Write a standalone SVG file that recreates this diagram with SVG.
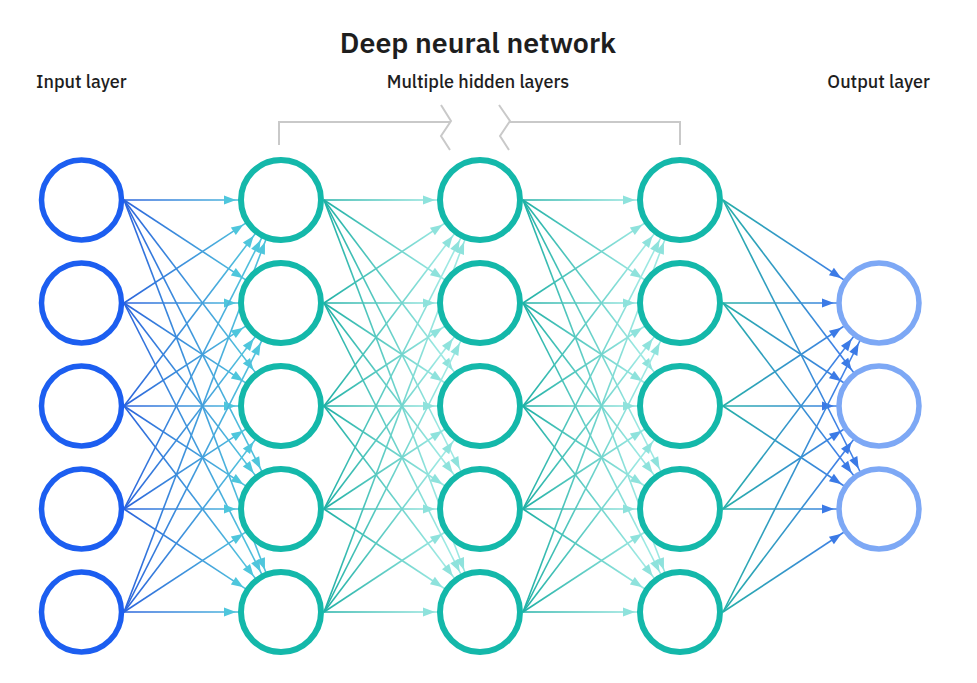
<svg xmlns="http://www.w3.org/2000/svg" width="977" height="683" viewBox="0 0 977 683">
<style>
text{font-family:"IBM Plex Sans","Noto Sans","Liberation Sans",sans-serif;fill:#1e1e1e}
.t{font-size:28.5px;font-weight:600}
.l{font-size:18px;font-weight:500}
.br{fill:none;stroke:#c9c9c9;stroke-width:2}
.c1 line{stroke:url(#g1);stroke-width:1.6;marker-end:url(#m1)}
.c2 line{stroke:url(#g2);stroke-width:1.6;marker-end:url(#m2)}
.c3 line{stroke:url(#g3);stroke-width:1.6;marker-end:url(#m2)}
.c4 line{stroke:url(#g4);stroke-width:1.6;marker-end:url(#m4)}
.in{fill:#fff;stroke:#1c5ef0;stroke-width:5.5}
.hd{fill:#fff;stroke:#14b8aa;stroke-width:6}
.out{fill:#fff;stroke:#7da8f5;stroke-width:5.5}
</style>
<defs>
<linearGradient id="g1" gradientUnits="userSpaceOnUse" x1="124" y1="0" x2="281" y2="0"><stop offset="0" stop-color="#2c64dc"/><stop offset="0.75" stop-color="#4fbedc"/></linearGradient>
<linearGradient id="g2" gradientUnits="userSpaceOnUse" x1="323" y1="0" x2="480" y2="0"><stop offset="0" stop-color="#1fb0a5"/><stop offset="0.75" stop-color="#9ce8e2"/></linearGradient>
<linearGradient id="g3" gradientUnits="userSpaceOnUse" x1="522" y1="0" x2="680" y2="0"><stop offset="0" stop-color="#1fb0a5"/><stop offset="0.75" stop-color="#9ce8e2"/></linearGradient>
<linearGradient id="g4" gradientUnits="userSpaceOnUse" x1="722" y1="0" x2="879" y2="0"><stop offset="0" stop-color="#26b0a8"/><stop offset="0.75" stop-color="#3f80e6"/></linearGradient>
<marker id="m1" markerUnits="userSpaceOnUse" markerWidth="70" markerHeight="20" viewBox="-70 -10 70 20" refX="0" refY="0" orient="auto" overflow="visible"><path d="M-45,0 L-57,-4.5 L-57,4.5 Z" fill="#4ec6dc"/></marker>
<marker id="m2" markerUnits="userSpaceOnUse" markerWidth="70" markerHeight="20" viewBox="-70 -10 70 20" refX="0" refY="0" orient="auto" overflow="visible"><path d="M-45,0 L-57,-4.5 L-57,4.5 Z" fill="#8ee2dc"/></marker>
<marker id="m4" markerUnits="userSpaceOnUse" markerWidth="70" markerHeight="20" viewBox="-70 -10 70 20" refX="0" refY="0" orient="auto" overflow="visible"><path d="M-45,0 L-57,-4.5 L-57,4.5 Z" fill="#3b7ae6"/></marker>
</defs>
<rect width="977" height="683" fill="#fff"/>
<text class="t" x="478" y="53" text-anchor="middle">Deep neural network</text>
<text class="l" x="36" y="88">Input layer</text>
<text class="l" x="478" y="88" text-anchor="middle">Multiple hidden layers</text>
<text class="l" x="930" y="88" text-anchor="end">Output layer</text>
<g id="bracket">
<path class="br" d="M279,145 V122 H451"/>
<path class="br" d="M441,105 L451,121 L441,136 L450,150"/>
<path class="br" d="M499,105 L510,121 L500,136 L509,150"/>
<path class="br" d="M510,122 H680 V145"/>
</g>
<g id="connectors">
<g class="c1">
<line x1="124" y1="200" x2="281" y2="200"/><line x1="124" y1="200" x2="281" y2="303"/><line x1="124" y1="200" x2="281" y2="406"/><line x1="124" y1="200" x2="281" y2="509"/><line x1="124" y1="200" x2="281" y2="612"/>
<line x1="124" y1="303" x2="281" y2="200"/><line x1="124" y1="303" x2="281" y2="303"/><line x1="124" y1="303" x2="281" y2="406"/><line x1="124" y1="303" x2="281" y2="509"/><line x1="124" y1="303" x2="281" y2="612"/>
<line x1="124" y1="406" x2="281" y2="200"/><line x1="124" y1="406" x2="281" y2="303"/><line x1="124" y1="406" x2="281" y2="406"/><line x1="124" y1="406" x2="281" y2="509"/><line x1="124" y1="406" x2="281" y2="612"/>
<line x1="124" y1="509" x2="281" y2="200"/><line x1="124" y1="509" x2="281" y2="303"/><line x1="124" y1="509" x2="281" y2="406"/><line x1="124" y1="509" x2="281" y2="509"/><line x1="124" y1="509" x2="281" y2="612"/>
<line x1="124" y1="612" x2="281" y2="200"/><line x1="124" y1="612" x2="281" y2="303"/><line x1="124" y1="612" x2="281" y2="406"/><line x1="124" y1="612" x2="281" y2="509"/><line x1="124" y1="612" x2="281" y2="612"/>
</g>
<g class="c2">
<line x1="324" y1="200" x2="480" y2="200"/><line x1="324" y1="200" x2="480" y2="303"/><line x1="324" y1="200" x2="480" y2="406"/><line x1="324" y1="200" x2="480" y2="509"/><line x1="324" y1="200" x2="480" y2="612"/>
<line x1="324" y1="303" x2="480" y2="200"/><line x1="324" y1="303" x2="480" y2="303"/><line x1="324" y1="303" x2="480" y2="406"/><line x1="324" y1="303" x2="480" y2="509"/><line x1="324" y1="303" x2="480" y2="612"/>
<line x1="324" y1="406" x2="480" y2="200"/><line x1="324" y1="406" x2="480" y2="303"/><line x1="324" y1="406" x2="480" y2="406"/><line x1="324" y1="406" x2="480" y2="509"/><line x1="324" y1="406" x2="480" y2="612"/>
<line x1="324" y1="509" x2="480" y2="200"/><line x1="324" y1="509" x2="480" y2="303"/><line x1="324" y1="509" x2="480" y2="406"/><line x1="324" y1="509" x2="480" y2="509"/><line x1="324" y1="509" x2="480" y2="612"/>
<line x1="324" y1="612" x2="480" y2="200"/><line x1="324" y1="612" x2="480" y2="303"/><line x1="324" y1="612" x2="480" y2="406"/><line x1="324" y1="612" x2="480" y2="509"/><line x1="324" y1="612" x2="480" y2="612"/>
</g>
<g class="c3">
<line x1="523" y1="200" x2="680" y2="200"/><line x1="523" y1="200" x2="680" y2="303"/><line x1="523" y1="200" x2="680" y2="406"/><line x1="523" y1="200" x2="680" y2="509"/><line x1="523" y1="200" x2="680" y2="612"/>
<line x1="523" y1="303" x2="680" y2="200"/><line x1="523" y1="303" x2="680" y2="303"/><line x1="523" y1="303" x2="680" y2="406"/><line x1="523" y1="303" x2="680" y2="509"/><line x1="523" y1="303" x2="680" y2="612"/>
<line x1="523" y1="406" x2="680" y2="200"/><line x1="523" y1="406" x2="680" y2="303"/><line x1="523" y1="406" x2="680" y2="406"/><line x1="523" y1="406" x2="680" y2="509"/><line x1="523" y1="406" x2="680" y2="612"/>
<line x1="523" y1="509" x2="680" y2="200"/><line x1="523" y1="509" x2="680" y2="303"/><line x1="523" y1="509" x2="680" y2="406"/><line x1="523" y1="509" x2="680" y2="509"/><line x1="523" y1="509" x2="680" y2="612"/>
<line x1="523" y1="612" x2="680" y2="200"/><line x1="523" y1="612" x2="680" y2="303"/><line x1="523" y1="612" x2="680" y2="406"/><line x1="523" y1="612" x2="680" y2="509"/><line x1="523" y1="612" x2="680" y2="612"/>
</g>
<g class="c4">
<line x1="723" y1="200" x2="879" y2="303"/><line x1="723" y1="200" x2="879" y2="406"/><line x1="723" y1="200" x2="879" y2="509"/>
<line x1="723" y1="303" x2="879" y2="303"/><line x1="723" y1="303" x2="879" y2="406"/><line x1="723" y1="303" x2="879" y2="509"/>
<line x1="723" y1="406" x2="879" y2="303"/><line x1="723" y1="406" x2="879" y2="406"/><line x1="723" y1="406" x2="879" y2="509"/>
<line x1="723" y1="509" x2="879" y2="303"/><line x1="723" y1="509" x2="879" y2="406"/><line x1="723" y1="509" x2="879" y2="509"/>
<line x1="723" y1="612" x2="879" y2="303"/><line x1="723" y1="612" x2="879" y2="406"/><line x1="723" y1="612" x2="879" y2="509"/>
</g>
</g>
<g id="input-layer">
<g id="i1"><circle class="in" cx="81.5" cy="200" r="40"/></g>
<g id="i2"><circle class="in" cx="81.5" cy="303" r="40"/></g>
<g id="i3"><circle class="in" cx="81.5" cy="406" r="40"/></g>
<g id="i4"><circle class="in" cx="81.5" cy="509" r="40"/></g>
<g id="i5"><circle class="in" cx="81.5" cy="612" r="40"/></g>
</g>
<g id="hidden-1">
<g id="h1-1"><circle class="hd" cx="281" cy="200" r="40"/></g>
<g id="h1-2"><circle class="hd" cx="281" cy="303" r="40"/></g>
<g id="h1-3"><circle class="hd" cx="281" cy="406" r="40"/></g>
<g id="h1-4"><circle class="hd" cx="281" cy="509" r="40"/></g>
<g id="h1-5"><circle class="hd" cx="281" cy="612" r="40"/></g>
</g>
<g id="hidden-2">
<g id="h2-1"><circle class="hd" cx="480" cy="200" r="40"/></g>
<g id="h2-2"><circle class="hd" cx="480" cy="303" r="40"/></g>
<g id="h2-3"><circle class="hd" cx="480" cy="406" r="40"/></g>
<g id="h2-4"><circle class="hd" cx="480" cy="509" r="40"/></g>
<g id="h2-5"><circle class="hd" cx="480" cy="612" r="40"/></g>
</g>
<g id="hidden-3">
<g id="h3-1"><circle class="hd" cx="680" cy="200" r="40"/></g>
<g id="h3-2"><circle class="hd" cx="680" cy="303" r="40"/></g>
<g id="h3-3"><circle class="hd" cx="680" cy="406" r="40"/></g>
<g id="h3-4"><circle class="hd" cx="680" cy="509" r="40"/></g>
<g id="h3-5"><circle class="hd" cx="680" cy="612" r="40"/></g>
</g>
<g id="output-layer">
<g id="o1"><circle class="out" cx="879" cy="303" r="40"/></g>
<g id="o2"><circle class="out" cx="879" cy="406" r="40"/></g>
<g id="o3"><circle class="out" cx="879" cy="509" r="40"/></g>
</g>
</svg>
